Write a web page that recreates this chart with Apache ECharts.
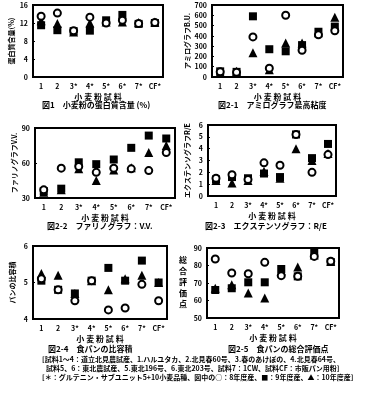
<!DOCTYPE html>
<html><head><meta charset="utf-8">
<script src="https://cdn.jsdelivr.net/npm/echarts@6/dist/echarts.min.js"></script>
<style>html,body{margin:0;padding:0;background:#fff}#c{width:365px;height:395px}</style>
</head><body><div id="c"></div>
<script>
const categories = ['1','2','3*','4*','5*','6*','7*','CF*'];
// ○ 8年度産, ■ 9年度産, ▲ 10年度産
const protein8  = [13.5,14.2,10.3,13.3,12.0,12.6,11.9,12.1];
const protein9  = [11.5,10.4,10.2,10.3,12.6,13.8,11.8,12.0];
const protein10 = [12.5,11.9,10.0,12.0,12.2,12.2,12.1,12.2];
const amylo8  = [50,45,390,85,600,260,410,450];
const amylo9  = [55,50,590,270,250,310,440,490];
const amylo10 = [45,55,235,70,330,330,430,580];
const farino8  = [37,55.6,57,52,55.6,55,53.5,69];
const farino9  = [36,38,60.6,59,63,73,83.5,81];
const farino10 = [35,37,55,45,54,56,69,75];
const exten8  = [1.5,1.8,1.4,2.8,2.6,5.2,2.0,3.5];
const exten9  = [1.4,1.6,1.5,1.9,1.6,5.2,3.2,4.4];
const exten10 = [1.3,1.1,1.3,2.1,1.5,4.0,3.0,3.6];
const volume8  = [5.1,4.8,4.5,5.05,4.25,4.3,4.95,4.5];
const volume9  = [5.05,4.8,4.7,5.05,5.4,5.05,5.6,5.0];
const volume10 = [5.25,5.2,4.7,5.05,4.8,5.1,5.2,5.0];
const score8  = [83.7,75.7,75.3,81.8,74.2,73.8,85.2,82.4];
const score9  = [66,67,70.4,70.4,78,73.8,88,82];
const score10 = [67,69,64.3,61.4,77,79.1,86,82.5];

const FONT = '"Noto Sans CJK JP", "Noto Sans", sans-serif';
const charts = [
  {grid:{left:33,top:5,width:130,height:72}, y:[0,16,4], name:'蛋白質含量(%)', gap:18, s:[protein8,protein9,protein10]},
  {grid:{left:212,top:5,width:131,height:72}, y:[0,700,100], name:'アミログラフB.U.', gap:20, s:[amylo8,amylo9,amylo10]},
  {grid:{left:35,top:128,width:140,height:70}, y:[30,90,30], name:'ファリノグラフV.V.', gap:17, s:[farino8,farino9,farino10]},
  {grid:{left:208,top:125,width:128,height:71}, y:[0,6,1], name:'エクステンソグラフR/E', gap:17, s:[exten8,exten9,exten10]},
  {grid:{left:33,top:246,width:134,height:73}, y:[4,6,1], name:'パンの比容積', gap:17, s:[volume8,volume9,volume10]},
  {grid:{left:207,top:248,width:132,height:70}, y:[50,90,10], name:'', gap:20, s:[score8,score9,score10]}
];
const grids=[], xAxes=[], yAxes=[], series=[];
const lab = {color:'#000', fontSize:7, fontWeight:'bold', fontFamily:FONT};
charts.forEach((c,i)=>{
  grids.push(Object.assign({show:true, borderColor:'#000', borderWidth:2, backgroundColor:'transparent'}, c.grid));
  xAxes.push({gridIndex:i, type:'category', data:categories, boundaryGap:true,
    axisLine:{lineStyle:{color:'#000',width:2}}, axisTick:{inside:true,length:2,alignWithLabel:true,lineStyle:{color:'#000'}},
    axisLabel:Object.assign({margin:6},lab),
    name:'小 麦 粉 試 料', nameLocation:'middle', nameGap:16,
    nameTextStyle:{color:'#000',fontSize:8,fontWeight:'bold',fontFamily:FONT}});
  yAxes.push({gridIndex:i, type:'value', min:c.y[0], max:c.y[1], interval:c.y[2],
    axisLine:{show:true,lineStyle:{color:'#000',width:2}}, axisTick:{show:true,inside:true,length:2,lineStyle:{color:'#000'}},
    splitLine:{show:false}, axisLabel:Object.assign({margin:5},lab),
    name:c.name, nameLocation:'middle', nameRotate:90, nameGap:c.gap,
    nameTextStyle:{color:'#000',fontSize:7,fontWeight:'bold',fontFamily:FONT}});
  const base = {type:'scatter', xAxisIndex:i, yAxisIndex:i, emphasis:{disabled:true}};
  series.push(Object.assign({}, base, {data:c.s[1], symbol:'rect', symbolSize:8, itemStyle:{color:'#000',opacity:1}}));
  series.push(Object.assign({}, base, {data:c.s[2], symbol:'triangle', symbolSize:9, itemStyle:{color:'#000',opacity:1}}));
  series.push(Object.assign({}, base, {data:c.s[0], symbol:'circle', symbolSize:7, itemStyle:{color:'#fff',borderColor:'#000',borderWidth:2,opacity:1}}));
});
const cap = (x,y,t,fs)=>({type:'text', left:x, top:y, style:{text:t, fill:'#000', font:'bold '+(fs||8)+'px '+FONT}});
const chart = echarts.init(document.getElementById('c'), null, {renderer:'canvas'});
chart.setOption({
  animation:false,
  grid:grids, xAxis:xAxes, yAxis:yAxes, series:series,
  graphic:[
    cap(42,101,'図1　小麦粉の蛋白質含量 (%)'),
    cap(218,101,'図2-1　アミログラフ最高粘度'),
    cap(47,222,'図2-2　ファリノグラフ：V.V.'),
    cap(205,222,'図2-3　エクステンソグラフ：R/E'),
    cap(48,345,'図2-4　食パンの比容積'),
    cap(228,345,'図2-5　食パンの総合評価点'),
    {type:'group', left:179, top:256, children:['総','合','評','価','点'].map((ch,k)=>({type:'text', x:0, y:k*11, style:{text:ch, fill:'#000', font:'bold 8px '+FONT}}))},
    cap(42,356,'[試料1～4：道立北見農試産、1.ハルユタカ、2.北見春60号、3.春のあけぼの、4.北見春64号、',7),
    cap(46,365,'試料5、6：東北農試産、5.東北196号、6.東北203号、試料7：1CW、試料CF：市販パン用粉]',7),
    cap(42,374,'[＊：グルテニン・サブユニット5+10小麦品種、図中の○：8年度産、■：9年度産、▲：10年度産]',7)
  ]
});
</script></body></html>
